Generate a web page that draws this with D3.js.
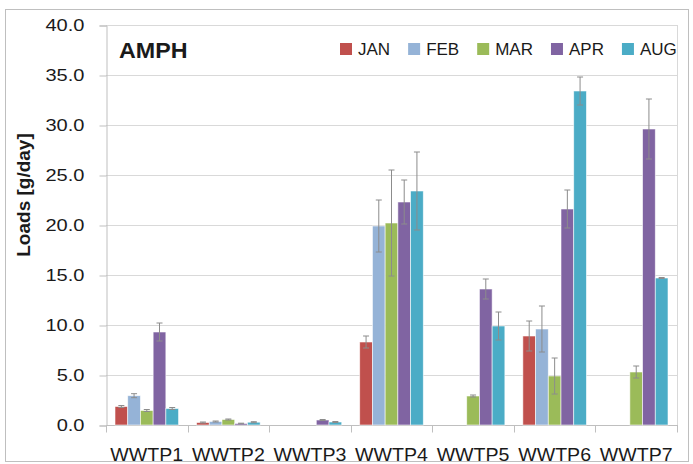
<!DOCTYPE html>
<html>
<head>
<meta charset="utf-8">
<title>AMPH loads</title>
<script src="https://d3js.org/d3.v7.min.js"></script>
<style>
  body { margin: 0; background: #fff; }
  text { font-family: "Liberation Sans", Arial, sans-serif; fill: #1a1a1a; }
</style>
</head>
<body>
<div id="chart"></div>
<script>
// data
const plants = ["WWTP1", "WWTP2", "WWTP3", "WWTP4", "WWTP5", "WWTP6", "WWTP7"];
const months = ["JAN", "FEB", "MAR", "APR", "AUG"];
const colors = ["#C0504D", "#95B3D7", "#9BBB59", "#8064A2", "#4BACC6"];

const jan = [1.85, 0.25, 0, 8.3, 0, 8.9, 0];
const feb = [2.93, 0.35, 0, 19.9, 0, 9.6, 0];
const mar = [1.45, 0.55, 0, 20.2, 2.9, 4.9, 5.3];
const apr = [9.3, 0.15, 0.5, 22.3, 13.6, 21.6, 29.6];
const aug = [1.65, 0.28, 0.3, 23.4, 9.9, 33.4, 14.7];

const janErr = [0.1, 0.05, 0, 0.6, 0, 1.5, 0];
const febErr = [0.2, 0.05, 0, 2.6, 0, 2.3, 0];
const marErr = [0.1, 0.05, 0, 5.3, 0.1, 1.8, 0.6];
const aprErr = [0.9, 0.03, 0.05, 2.2, 1.0, 1.9, 3.0];
const augErr = [0.1, 0.05, 0.05, 3.9, 1.4, 1.4, 0.05];

const yTicks = [0, 5, 10, 15, 20, 25, 30, 35, 40];

const values = [jan, feb, mar, apr, aug];
const errors = [janErr, febErr, marErr, aprErr, augErr];

const rows = [];
plants.forEach((p, i) => {
  months.forEach((m, j) => {
    rows.push({ plant: p, month: m, value: values[j][i], err: errors[j][i] });
  });
});

const W = 693, H = 464;
const plotL = 106, plotR = 677, plotT = 25, plotB = 425;
const sx = 1.18; // tick numbers in the reference are wider than ours

const svg = d3.select("#chart").append("svg")
  .attr("width", W).attr("height", H);

// outer frame
svg.append("rect")
  .attr("x", 5.5).attr("y", 9.5)
  .attr("width", 683).attr("height", 452)
  .attr("fill", "none").attr("stroke", "#BFBFBF");

const x = d3.scaleBand().domain(plants).range([plotL, plotR]).padding(0);
const xIn = d3.scaleBand().domain(months).range([9, x.bandwidth() - 9]).padding(0);
const y = d3.scaleLinear().domain([0, 40]).range([plotB, plotT]);
const color = d3.scaleOrdinal().domain(months).range(colors);

// gridlines
svg.append("g")
  .selectAll("line")
  .data(yTicks.slice(1))
  .join("line")
  .attr("x1", plotL).attr("x2", plotR)
  .attr("y1", d => Math.round(y(d)) + 0.5).attr("y2", d => Math.round(y(d)) + 0.5)
  .attr("stroke", "#D9D9D9");

// plot area right edge
svg.append("line")
  .attr("x1", plotR + 0.5).attr("x2", plotR + 0.5)
  .attr("y1", plotT).attr("y2", plotB)
  .attr("stroke", "#D9D9D9");

// y axis
const yAxis = svg.append("g")
  .attr("transform", `translate(${plotL + 0.5},0.5)`)
  .call(d3.axisLeft(y).tickValues(yTicks).tickSize(7).tickPadding(15).tickFormat(d3.format(".1f")));
yAxis.select(".domain").attr("stroke", "#BFBFBF");
yAxis.selectAll(".tick line").attr("stroke", "#BFBFBF");
yAxis.selectAll(".tick text")
  .attr("font-size", 17)
  .attr("fill", "#1a1a1a")
  .attr("x", -22 / sx)
  .attr("transform", `scale(${sx},1)`)
  .style("font-family", "'Liberation Sans', Arial, sans-serif");

// x axis: ticks at band edges, labels centred
const xg = svg.append("g").attr("transform", `translate(0,${plotB + 0.5})`);
xg.append("line")
  .attr("x1", plotL).attr("x2", plotR + 1)
  .attr("stroke", "#BFBFBF");
xg.selectAll("line.tk")
  .data(plants.concat(["end"]))
  .join("line")
  .attr("class", "tk")
  .attr("x1", (d, i) => Math.round(plotL + i * x.bandwidth()) + 0.5)
  .attr("x2", (d, i) => Math.round(plotL + i * x.bandwidth()) + 0.5)
  .attr("y1", 0).attr("y2", 7)
  .attr("stroke", "#BFBFBF");
xg.selectAll("text")
  .data(plants)
  .join("text")
  .attr("text-anchor", "middle")
  .attr("font-size", 17.5)
  .attr("transform", d => `translate(${x(d) + x.bandwidth() / 2},35) scale(1.12,1)`)
  .text(d => d);

// bars
const groups = svg.append("g")
  .selectAll("g")
  .data(plants)
  .join("g")
  .attr("transform", d => `translate(${x(d)},0)`);

groups.selectAll("rect")
  .data(p => rows.filter(r => r.plant === p && r.value > 0))
  .join("rect")
  .attr("x", d => xIn(d.month))
  .attr("y", d => y(d.value))
  .attr("width", xIn.bandwidth())
  .attr("height", d => y(0) - y(d.value))
  .attr("fill", d => color(d.month))
  .attr("stroke", "#ffffff")
  .attr("stroke-opacity", 0.7)
  .attr("stroke-width", 0.8);

// error bars
const eb = groups.selectAll("g.err")
  .data(p => rows.filter(r => r.plant === p && r.value > 0))
  .join("g")
  .attr("class", "err")
  .attr("transform", d => `translate(${xIn(d.month) + xIn.bandwidth() / 2},0)`)
  .attr("stroke", "#8C8C8C")
  .attr("stroke-width", 1);
eb.append("line")
  .attr("y1", d => y(d.value + d.err)).attr("y2", d => y(Math.max(0, d.value - d.err)));
eb.append("line")
  .attr("x1", -3).attr("x2", 3)
  .attr("y1", d => y(d.value + d.err)).attr("y2", d => y(d.value + d.err));
eb.append("line")
  .attr("x1", -3).attr("x2", 3)
  .attr("y1", d => y(Math.max(0, d.value - d.err))).attr("y2", d => y(Math.max(0, d.value - d.err)));

// title
svg.append("text")
  .attr("transform", "translate(119,58) scale(1.06,1)")
  .attr("font-size", 22)
  .attr("font-weight", "bold")
  .attr("fill", "#000")
  .text("AMPH");

// y label
svg.append("text")
  .attr("transform", "translate(30,195) rotate(-90)")
  .attr("text-anchor", "middle")
  .attr("font-size", 19)
  .attr("font-weight", "bold")
  .attr("fill", "#000")
  .text("Loads [g/day]");

// legend
const legend = svg.append("g");
let lx = 340;
months.forEach(m => {
  const item = legend.append("g").attr("transform", `translate(${lx},0)`);
  item.append("rect")
    .attr("x", 0).attr("y", 43)
    .attr("width", 12).attr("height", 12)
    .attr("fill", color(m));
  const t = item.append("text")
    .attr("x", 18).attr("y", 55)
    .attr("font-size", 17)
    .text(m);
  lx += 18 + t.node().getComputedTextLength() + 18;
});
</script>
</body>
</html>
